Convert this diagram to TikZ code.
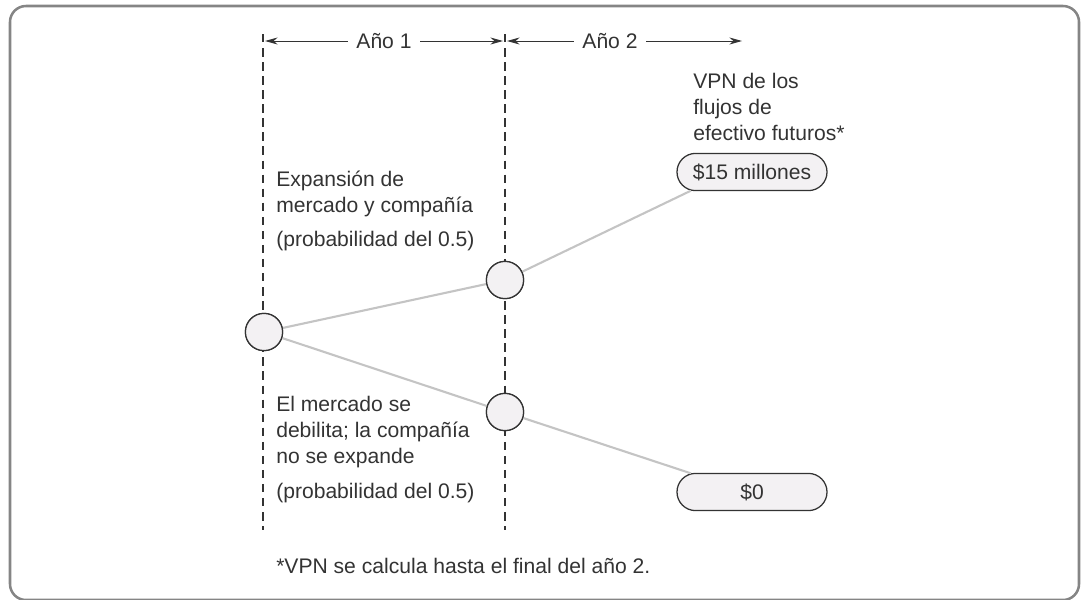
\documentclass[tikz,border=0pt]{standalone}
\usepackage{fontspec}
\setmainfont{Liberation Sans}
\usetikzlibrary{arrows.meta,shapes.misc}
\definecolor{ink}{HTML}{333333}
\definecolor{frame}{HTML}{858585}
\definecolor{branch}{HTML}{C4C4C4}
\definecolor{nodefill}{HTML}{F3F1F3}
\begin{document}
\begin{tikzpicture}[
    x=0.025cm, y=-0.025cm,
    txt/.style={font=\fontsize{15}{18.4}\selectfont, text=ink, inner sep=0pt, align=left, anchor=base west},
    chance/.style={circle, draw=ink, fill=nodefill, line width=0.9pt, minimum size=0.93cm, inner sep=0pt},
    payoff/.style={rounded rectangle, draw=ink, fill=nodefill, line width=0.9pt,
                   minimum width=3.75cm, minimum height=0.93cm, inner sep=0pt,
                   font=\fontsize{15}{18}\selectfont, text=ink},
    yrlabel/.style={font=\fontsize{15}{18}\selectfont, text=ink, inner sep=6pt},
    yrline/.style={draw=ink, line width=0.8pt, dash pattern=on 6pt off 4pt},
    yrarrow/.style={draw=ink, line width=0.7pt, -{Stealth[length=9pt,width=5pt]}},
    branchln/.style={draw=branch, line width=1.5pt}
  ]
  \useasboundingbox (0,0) rectangle (1085,599);

  % Outer frame
  \draw[frame, line width=1.8pt, rounded corners=0.4cm] (10,6) rectangle (1079,600);

  % Year boundaries
  \draw[yrline] (263,34) -- (263,530);
  \draw[yrline] (505,34) -- (505,530);

  % Year headers
  \node[yrlabel] (yr1) at (384,41) {Año 1};
  \node[yrlabel] (yr2) at (610,41) {Año 2};
  \coordinate (yr1left) at (265,41);
  \coordinate (yr1right) at (503,41);
  \coordinate (yr2left) at (507,41);
  \coordinate (yr2right) at (742,41);
  \draw[yrarrow] (yr1) -- (yr1left);
  \draw[yrarrow] (yr1) -- (yr1right);
  \draw[yrarrow] (yr2) -- (yr2left);
  \draw[yrarrow] (yr2) -- (yr2right);

  % Chance nodes and outcomes
  \node[chance] (dec0) at (264,332) {};
  \node[chance] (dec1) at (505,280) {};
  \node[chance] (dec2) at (505,412) {};
  \node[payoff] (pv15) at (752,172) {\$15 millones};
  \node[payoff] (pv0) at (752,492) {\$0};

  % Branches
  \draw[branchln] (dec0) -- (dec1);
  \draw[branchln] (dec0) -- (dec2);
  \draw[branchln] (dec1) -- (pv15.197);
  \draw[branchln] (dec2) -- (pv0.163);
  % redraw nodes over branches
  \node[chance] at (dec0) {};
  \node[chance] at (dec1) {};
  \node[chance] at (dec2) {};

  % Labels (base = last line)
  \node[txt] (npvhead) at (693,140) {VPN de los\\flujos de\\efectivo futuros*};
  \node[txt] (upcase) at (276,212) {Expansión de\\mercado y compañía};
  \node[txt] (upprob) at (276,246) {(probabilidad del 0.5)};
  \node[txt] (downcase) at (276,463) {El mercado se\\debilita; la compañía\\no se expande};
  \node[txt] (downprob) at (276,498) {(probabilidad del 0.5)};
  \node[txt] (footnote) at (276,573) {*VPN se calcula hasta el final del año 2.};

\end{tikzpicture}
\end{document}
